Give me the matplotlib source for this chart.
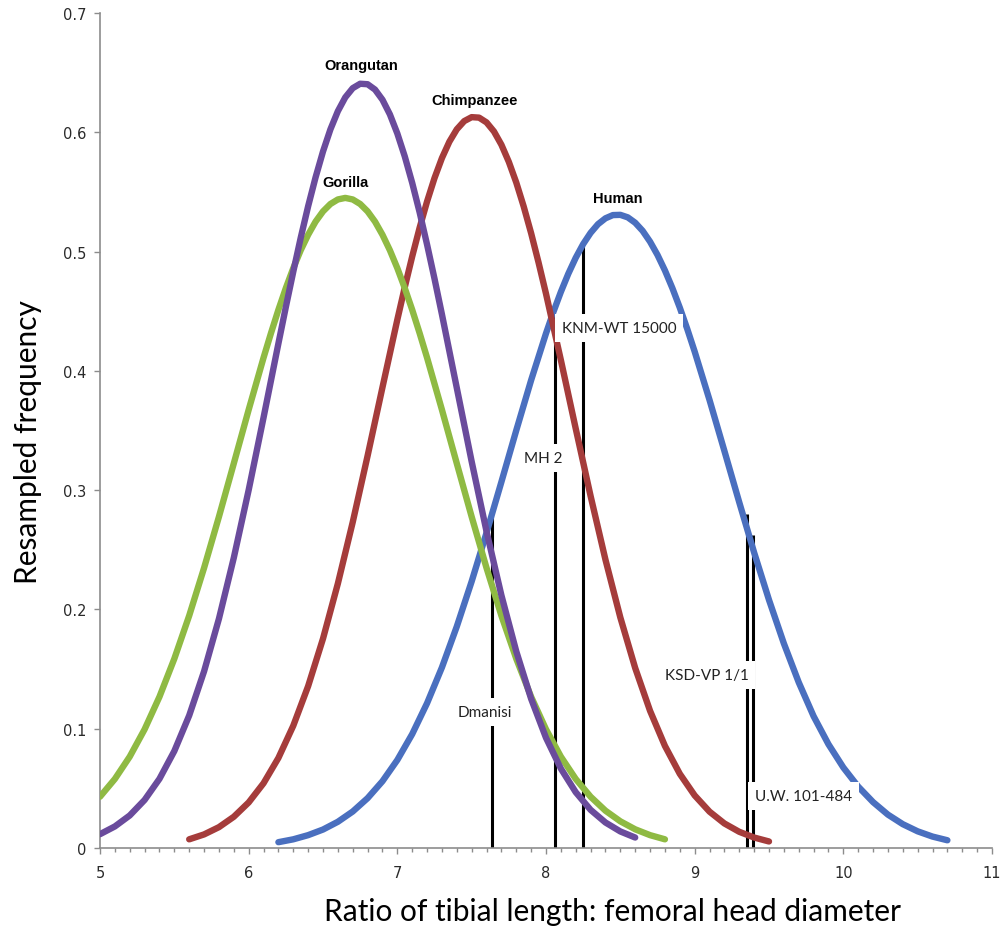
import matplotlib
matplotlib.use("Agg")
import matplotlib.pyplot as plt
from matplotlib.ticker import MultipleLocator

# Curves (denser sampling around each peak)
orang_x = [5.0, 5.1, 5.2, 5.3, 5.4, 5.5, 5.6, 5.7, 5.8, 5.9, 6.0, 6.1, 6.2, 6.25, 6.3, 6.35,
           6.4, 6.45, 6.5, 6.55, 6.6, 6.65, 6.7, 6.75, 6.8, 6.85, 6.9, 6.95, 7.0, 7.05, 7.1,
           7.15, 7.2, 7.25, 7.3, 7.4, 7.5, 7.6, 7.7, 7.8, 7.9, 8.0, 8.1, 8.2, 8.3, 8.4, 8.5, 8.6]
orang_y = [0.0116, 0.0181, 0.0273, 0.0403, 0.0580, 0.0813, 0.1111, 0.1481, 0.1922, 0.2433,
           0.3001, 0.3608, 0.4229, 0.4535, 0.4831, 0.5115, 0.5380, 0.5622, 0.5839, 0.6025,
           0.6177, 0.6293, 0.6370, 0.6407, 0.6403, 0.6358, 0.6273, 0.6150, 0.5990, 0.5798,
           0.5576, 0.5329, 0.5059, 0.4773, 0.4474, 0.3857, 0.3240, 0.2654, 0.2119, 0.1649,
           0.1251, 0.0924, 0.0666, 0.0468, 0.0320, 0.0214, 0.0139, 0.0088]

gorilla_x = [5.0, 5.1, 5.2, 5.3, 5.4, 5.5, 5.6, 5.7, 5.8, 5.9, 6.0, 6.1, 6.15, 6.2, 6.25, 6.3,
             6.35, 6.4, 6.45, 6.5, 6.55, 6.6, 6.65, 6.7, 6.75, 6.8, 6.85, 6.9, 6.95, 7.0, 7.05,
             7.1, 7.15, 7.2, 7.3, 7.4, 7.5, 7.6, 7.7, 7.8, 7.9, 8.0, 8.1, 8.2, 8.3, 8.4, 8.5,
             8.6, 8.7, 8.8]
gorilla_y = [0.0430, 0.0579, 0.0766, 0.0995, 0.1268, 0.1587, 0.1948, 0.2348, 0.2777, 0.3224,
             0.3674, 0.4110, 0.4316, 0.4512, 0.4694, 0.4861, 0.5011, 0.5141, 0.5251, 0.5337,
             0.5399, 0.5437, 0.5450, 0.5437, 0.5399, 0.5337, 0.5251, 0.5141, 0.5011, 0.4861,
             0.4694, 0.4512, 0.4316, 0.4110, 0.3674, 0.3224, 0.2777, 0.2348, 0.1948, 0.1587,
             0.1268, 0.0995, 0.0766, 0.0579, 0.0430, 0.0313, 0.0224, 0.0157, 0.0108, 0.0073]

chimp_x = [5.6, 5.7, 5.8, 5.9, 6.0, 6.1, 6.2, 6.3, 6.4, 6.5, 6.6, 6.7, 6.8, 6.9, 7.0, 7.05,
           7.1, 7.15, 7.2, 7.25, 7.3, 7.35, 7.4, 7.45, 7.5, 7.55, 7.6, 7.65, 7.7, 7.75, 7.8,
           7.85, 7.9, 7.95, 8.0, 8.1, 8.2, 8.3, 8.4, 8.5, 8.6, 8.7, 8.8, 8.9, 9.0, 9.1, 9.2,
           9.3, 9.4, 9.5]
chimp_y = [0.0073, 0.0114, 0.0175, 0.0262, 0.0382, 0.0543, 0.0755, 0.1025, 0.1357, 0.1755,
           0.2217, 0.2732, 0.3288, 0.3862, 0.4429, 0.4701, 0.4959, 0.5200, 0.5420, 0.5616,
           0.5784, 0.5921, 0.6025, 0.6094, 0.6127, 0.6123, 0.6083, 0.6007, 0.5896, 0.5752,
           0.5579, 0.5378, 0.5154, 0.4908, 0.4647, 0.4091, 0.3516, 0.2951, 0.2417, 0.1933,
           0.1509, 0.1150, 0.0856, 0.0622, 0.0441, 0.0305, 0.0206, 0.0136, 0.0088, 0.0055]

human_x = [6.2, 6.3, 6.4, 6.5, 6.6, 6.7, 6.8, 6.9, 7.0, 7.1, 7.2, 7.3, 7.4, 7.5, 7.6, 7.7,
           7.8, 7.9, 8.0, 8.05, 8.1, 8.15, 8.2, 8.25, 8.3, 8.35, 8.4, 8.45, 8.5, 8.55, 8.6,
           8.65, 8.7, 8.75, 8.8, 8.85, 8.9, 8.95, 9.0, 9.1, 9.2, 9.3, 9.4, 9.5, 9.6, 9.7,
           9.8, 9.9, 10.0, 10.1, 10.2, 10.3, 10.4, 10.5, 10.6, 10.7]
human_y = [0.0049, 0.0073, 0.0108, 0.0155, 0.0220, 0.0306, 0.0418, 0.0560, 0.0738, 0.0955,
           0.1214, 0.1514, 0.1857, 0.2235, 0.2643, 0.3069, 0.3501, 0.3922, 0.4314, 0.4495,
           0.4662, 0.4814, 0.4948, 0.5063, 0.5157, 0.5230, 0.5279, 0.5306, 0.5308, 0.5287,
           0.5242, 0.5174, 0.5083, 0.4972, 0.4842, 0.4694, 0.4530, 0.4352, 0.4162, 0.3756,
           0.3329, 0.2898, 0.2477, 0.2080, 0.1715, 0.1389, 0.1105, 0.0870, 0.0675, 0.0515,
           0.0385, 0.0280, 0.0200, 0.0140, 0.0096, 0.0065]

species = ["Orangutan", "Gorilla", "Chimpanzee", "Human"]
species_label_x = [6.76, 6.65, 7.52, 8.48]
species_label_y = [0.656, 0.558, 0.627, 0.545]

# fossil specimens: ratio, height of marker line, label position
fossils = ["Dmanisi", "MH 2", "KNM-WT 15000", "KSD-VP 1/1", "U.W. 101-484"]
fossil_x = [7.64, 8.06, 8.25, 9.355, 9.395]
fossil_top = [0.278, 0.448, 0.505, 0.280, 0.262]
fossil_label_x = [7.59, 7.98, 8.49, 9.08, 9.73]
fossil_label_y = [0.114, 0.327, 0.436, 0.145, 0.0436]

y_ticks = [0, 0.1, 0.2, 0.3, 0.4, 0.5, 0.6, 0.7]
y_tick_labels = ["0", "0.1", "0.2", "0.3", "0.4", "0.5", "0.6", "0.7"]

colors = {"Orangutan": "#6a4b9c", "Gorilla": "#8fba43",
          "Chimpanzee": "#a53c3b", "Human": "#4a6fbf"}

fig = plt.figure(figsize=(10.01, 9.28), dpi=100)
ax = fig.add_axes([0.0999, 0.0851, 0.8911, 0.8998])

# fossil markers
for fx, top in zip(fossil_x, fossil_top):
    ax.plot([fx, fx], [0, top], color="black", lw=2.2, zorder=2, solid_capstyle="butt")

# species curves
curve_data = {"Orangutan": (orang_x, orang_y), "Gorilla": (gorilla_x, gorilla_y),
              "Chimpanzee": (chimp_x, chimp_y), "Human": (human_x, human_y)}
for name in ["Human", "Chimpanzee", "Gorilla", "Orangutan"]:
    xs, ys = curve_data[name]
    ax.plot(xs, ys, color=colors[name], lw=4.6, solid_capstyle="round",
            solid_joinstyle="round", zorder=3)

for name, lx, ly in zip(species, species_label_x, species_label_y):
    ax.text(lx, ly, name, ha="center", va="center", fontsize=10.5,
            fontweight="bold", family="Liberation Sans", zorder=5)

for name, lx, ly in zip(fossils, fossil_label_x, fossil_label_y):
    ax.text(lx, ly, name, ha="center", va="center", fontsize=11, family="Lato",
            color="#222222", zorder=6,
            bbox=dict(boxstyle="square,pad=0.45", fc="white", ec="none"))

ax.set_xlim(5, 11)
ax.set_ylim(0, 0.7)
ax.xaxis.set_major_locator(MultipleLocator(1))
ax.xaxis.set_minor_locator(MultipleLocator(0.1))
ax.set_yticks(y_ticks)
ax.set_yticklabels(y_tick_labels)

for side in ["top", "right"]:
    ax.spines[side].set_visible(False)
for side in ["left", "bottom"]:
    ax.spines[side].set_color("#8c8c8c")
    ax.spines[side].set_linewidth(1.2)

ax.tick_params(axis="both", which="major", direction="out", length=4, width=1,
               color="#8c8c8c", labelsize=10.5, labelcolor="#2a2a2a")
ax.tick_params(axis="x", which="major", pad=8)
ax.tick_params(axis="y", which="major", pad=6)
ax.tick_params(axis="x", which="minor", direction="out", length=3, width=1,
               color="#8c8c8c")
for lab in ax.get_xticklabels() + ax.get_yticklabels():
    lab.set_family("Liberation Sans Narrow")

fig.text(0.612, 0.0075, "Ratio of tibial length: femoral head diameter",
         ha="center", va="baseline", fontsize=21.5, family="Lato")
fig.text(0.028, 0.524, "Resampled frequency", ha="center", va="center",
         rotation=90, fontsize=21.5, family="Lato")

fig.savefig("out.png", dpi=100)
